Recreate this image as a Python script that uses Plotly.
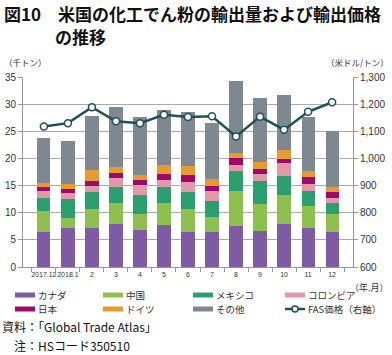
import plotly.graph_objects as go

months = ["2017.12", "2018.1", "2", "3", "4", "5", "6", "7", "8", "9", "10", "11", "12"]
canada   = [6.5, 7.2, 7.2, 8.0, 6.9, 7.7, 6.5, 6.5, 7.5, 6.6, 8.0, 7.1, 6.5]
china    = [3.9, 1.9, 3.4, 3.8, 2.9, 4.1, 4.2, 2.8, 6.5, 5.0, 5.3, 4.1, 3.3]
mexico   = [2.4, 3.4, 3.3, 3.0, 3.5, 2.9, 3.2, 2.9, 3.6, 4.3, 3.5, 2.8, 1.9]
colombia = [1.2, 1.1, 1.1, 1.6, 1.8, 1.3, 1.8, 1.8, 1.1, 1.2, 2.4, 1.2, 1.1]
japan    = [0.7, 0.7, 0.8, 1.0, 1.0, 1.1, 1.2, 1.0, 1.3, 0.9, 0.7, 1.3, 1.0]
germany  = [0.8, 1.0, 2.1, 1.1, 0.8, 1.7, 1.7, 1.3, 1.0, 1.3, 1.7, 1.1, 0.9]
others   = [8.3, 7.9, 9.9, 11.0, 10.7, 10.1, 9.9, 10.2, 13.2, 11.8, 10.1, 10.0, 10.4]
fas_price = [1118, 1130, 1189, 1137, 1130, 1161, 1153, 1155, 1081, 1154, 1106, 1172, 1207]

series_names = ["カナダ", "中国", "メキシコ", "コロンビア", "日本", "ドイツ", "その他"]
series_vals = [canada, china, mexico, colombia, japan, germany, others]
colors = ["#7f5ba6", "#8dc04c", "#2aa06f", "#e398aa", "#a0086e", "#e99a2f", "#7e8891"]
line_name = "FAS価格（右軸）"
line_color = "#1f4f5b"

W, H = 392, 355
L, R, T, B = 23, 353, 77, 267
JP = "Noto Sans CJK JP"
LAT = "Liberation Sans, Noto Sans CJK JP"

def px(x):
    return (x - L) / (R - L)

def py(y):
    return (B - y) / (B - T)

fig = go.Figure()
for name, vals, c in zip(series_names, series_vals, colors):
    fig.add_trace(go.Bar(x=months, y=vals, name=name, marker=dict(color=c, line=dict(width=0)),
                         showlegend=False))
fig.add_trace(go.Scatter(x=months, y=fas_price, name=line_name, yaxis="y2", mode="lines+markers",
                         line=dict(color=line_color, width=2.5),
                         marker=dict(size=7, color="white", line=dict(color=line_color, width=1.5)),
                         showlegend=False))

fig.update_layout(
    width=W, height=H,
    margin=dict(l=L, r=W - R, t=T, b=H - B, pad=0, autoexpand=False),
    paper_bgcolor="white", plot_bgcolor="white",
    barmode="stack", bargap=0.45,
    font=dict(family=LAT, size=10, color="#333"),
    xaxis=dict(type="category", showgrid=False, showline=True, linecolor="#999", linewidth=1,
               ticks="outside", ticklen=4, tickcolor="#999", tickson="boundaries", tickangle=0,
               tickfont=dict(size=7, color="#333"), ticklabelstandoff=1, automargin=False),
    yaxis=dict(range=[0, 35], dtick=5, showgrid=True, gridcolor="#aaa", gridwidth=1,
               showline=True, linecolor="#999", ticks="outside", ticklen=4, tickcolor="#999",
               tickfont=dict(size=10, color="#333"), zeroline=False, automargin=False),
    yaxis2=dict(range=[600, 1300], dtick=100, overlaying="y", side="right", showgrid=False,
                showline=True, linecolor="#999", ticks="outside", ticklen=4, tickcolor="#999",
                tickformat=",", tickfont=dict(size=10, color="#333"), zeroline=False, automargin=False),
)

ann = []
ann.append(dict(text="<b>図10　米国の化工でん粉の輸出量および輸出価格</b>", x=px(2), y=py(13),
                xanchor="left", yanchor="middle", font=dict(family=JP, size=17, color="#111")))
ann.append(dict(text="<b>の推移</b>", x=px(53), y=py(36), xanchor="left", yanchor="middle",
                font=dict(family=JP, size=17, color="#111")))
ann.append(dict(text="（千トン）", x=px(2), y=py(62), xanchor="left", yanchor="middle",
                font=dict(family=JP, size=8.5, color="#333")))
ann.append(dict(text="（米ドル/トン）", x=px(391), y=py(62), xanchor="right", yanchor="middle",
                font=dict(family=JP, size=8.5, color="#333")))
ann.append(dict(text="（年.月）", x=px(391), y=py(287), xanchor="right", yanchor="middle",
                font=dict(family=JP, size=9, color="#333")))
ann.append(dict(text="資料：「Global Trade Atlas」", x=px(0), y=py(326), xanchor="left", yanchor="middle",
                font=dict(family=JP, size=12, color="#111")))
ann.append(dict(text="注：HSコード350510", x=px(12), y=py(345), xanchor="left", yanchor="middle",
                font=dict(family=JP, size=12, color="#111")))

shapes = []
col_x = [15, 103, 193, 285]
row_y = [295, 309]
legend_items = list(zip(series_names, colors)) + [(line_name, line_color)]
for i, (name, c) in enumerate(legend_items):
    r, cidx = divmod(i, 4)
    x0 = col_x[cidx]
    yc = row_y[r]
    if i < len(series_names):
        shapes.append(dict(type="rect", xref="paper", yref="paper", x0=px(x0), x1=px(x0 + 20),
                           y0=py(yc + 2.5), y1=py(yc - 2.5), fillcolor=c, line=dict(width=0)))
    else:
        shapes.append(dict(type="line", xref="paper", yref="paper", x0=px(x0), x1=px(x0 + 20),
                           y0=py(yc), y1=py(yc), line=dict(color=c, width=2.5)))
        shapes.append(dict(type="circle", xref="paper", yref="paper", x0=px(x0 + 7), x1=px(x0 + 13),
                           y0=py(yc + 3), y1=py(yc - 3), fillcolor="white", line=dict(color=c, width=1.5)))
    ann.append(dict(text=name, x=px(x0 + 21), y=py(yc), xanchor="left", yanchor="middle",
                    font=dict(family=JP, size=9.5, color="#333")))

for a in ann:
    a.update(xref="paper", yref="paper", showarrow=False)
fig.update_layout(annotations=ann, shapes=shapes)

fig.write_html("out.html", config={"displayModeBar": False},
               post_script="document.body.style.margin='0';document.body.style.overflow='hidden';")
